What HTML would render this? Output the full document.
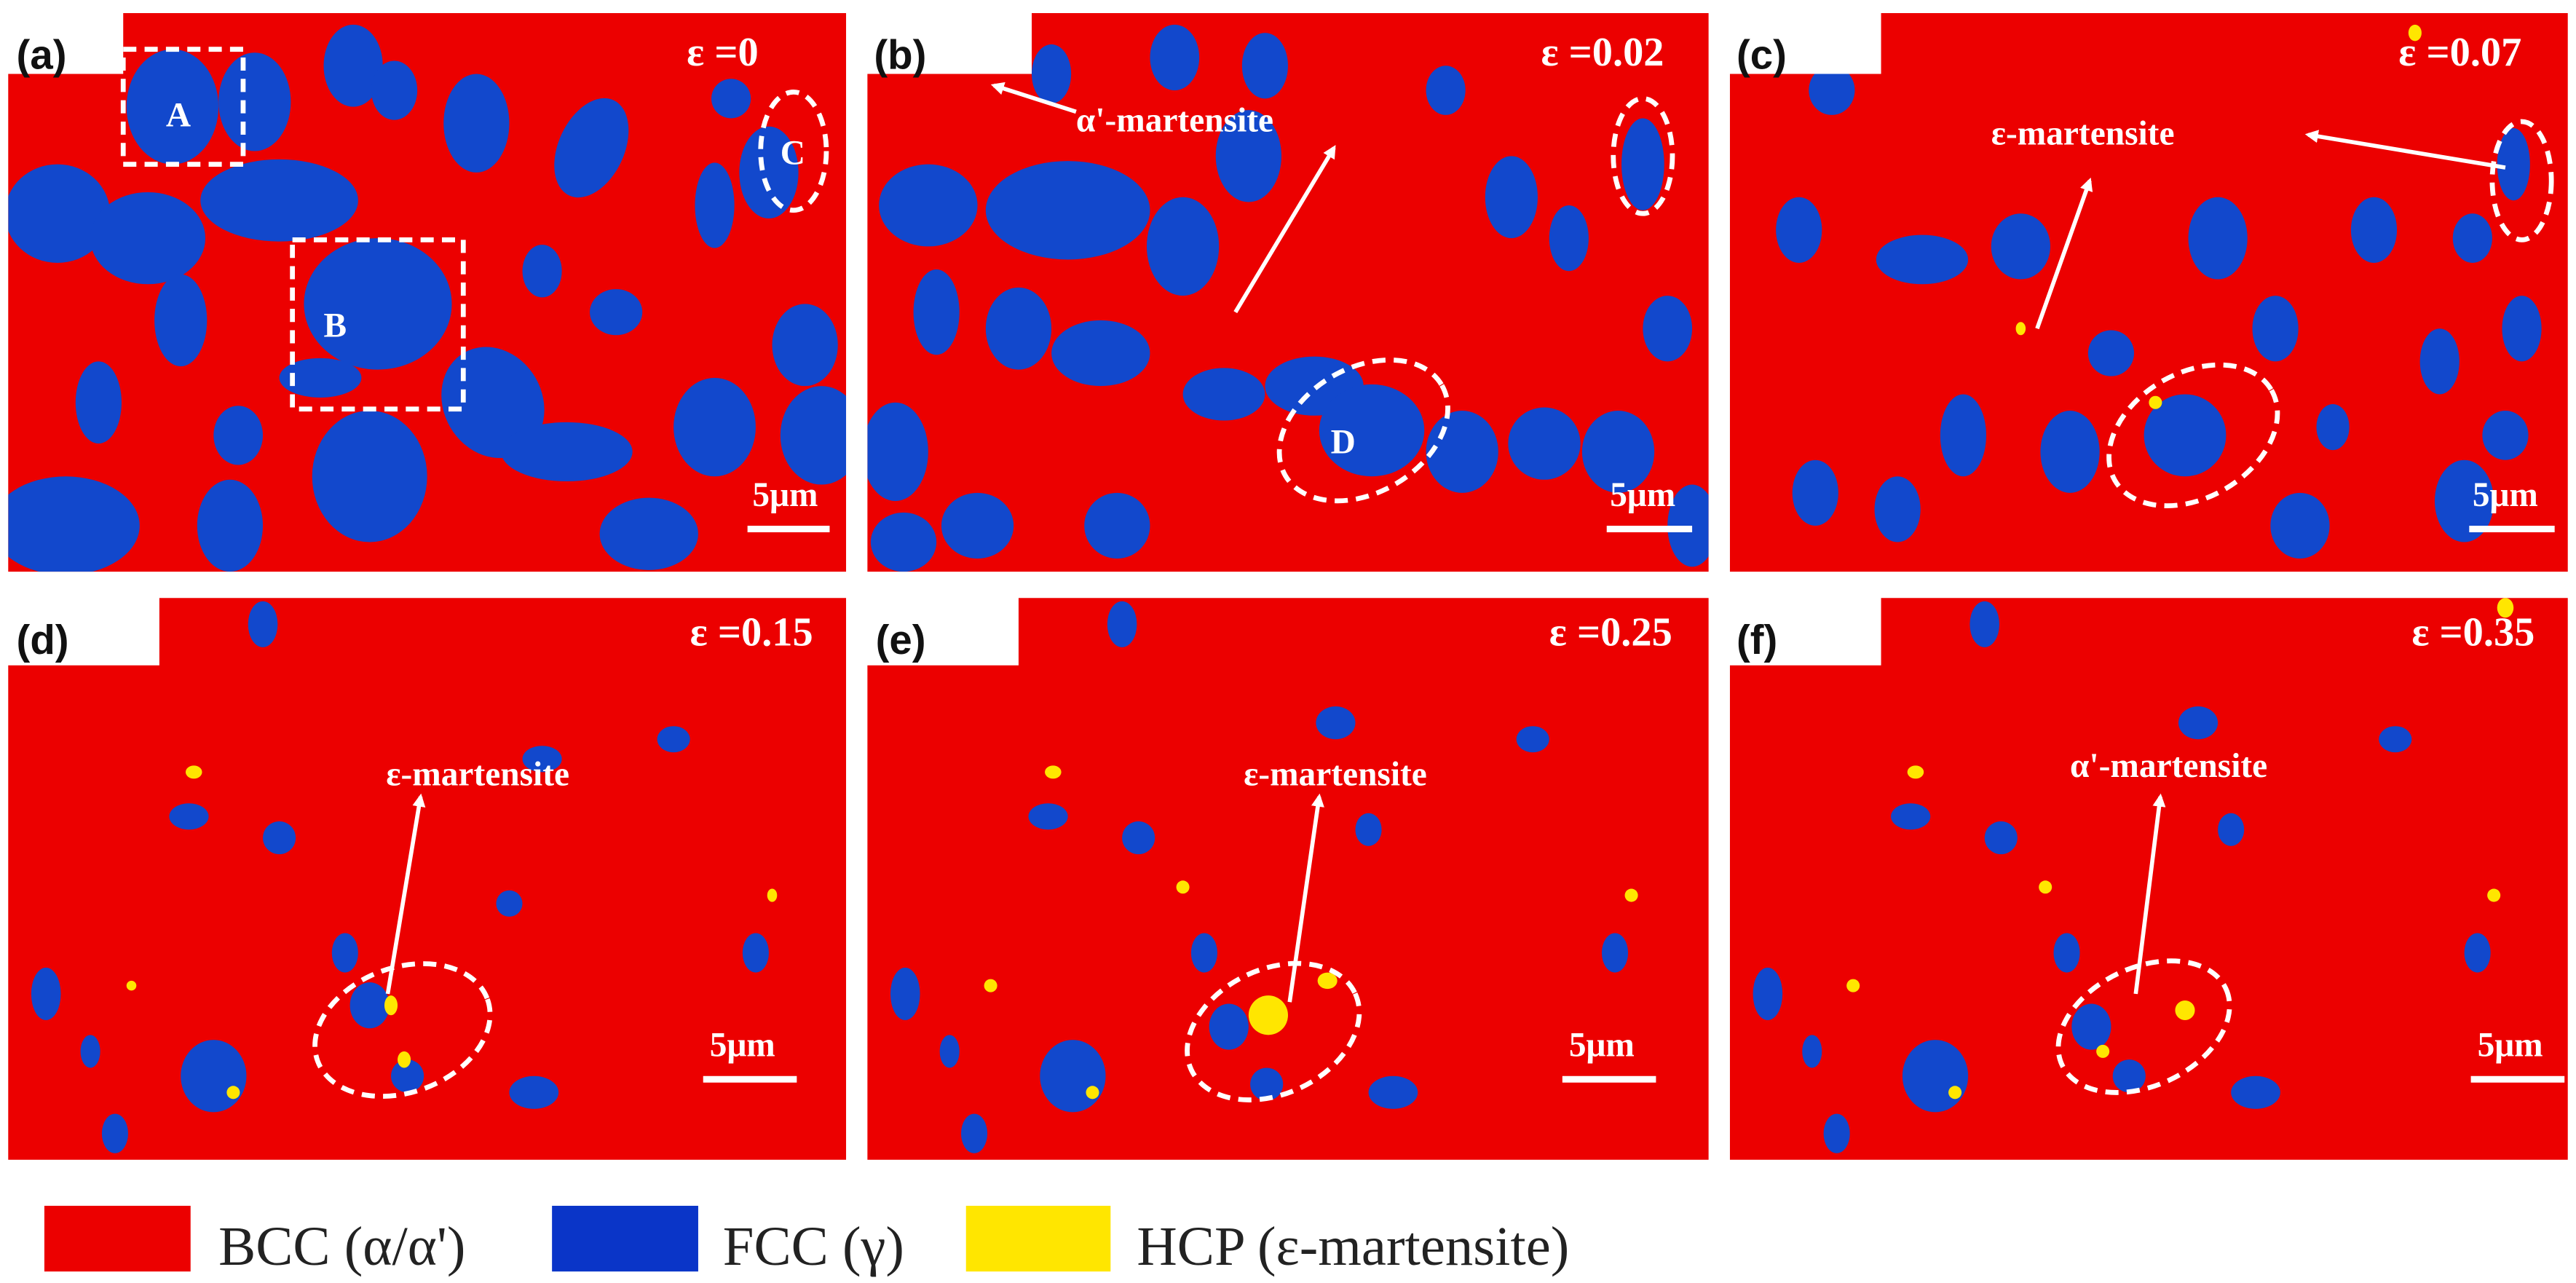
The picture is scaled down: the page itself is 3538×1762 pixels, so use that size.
<!DOCTYPE html>
<html><head><meta charset="utf-8"><style>
html,body{margin:0;padding:0;background:#fff;}
svg{display:block;}
.lbl{font-family:"Liberation Sans",sans-serif;font-weight:bold;font-size:25px;fill:#111;}
.eps{font-family:"Liberation Serif",serif;font-weight:bold;font-size:25px;fill:#fff;}
.ann{font-family:"Liberation Serif",serif;font-weight:bold;font-size:21px;fill:#fff;}
.sb{font-family:"Liberation Serif",serif;font-weight:bold;font-size:21px;fill:#fff;}
.leg{font-family:"Liberation Serif",serif;font-size:34px;fill:#222;}
.b ellipse{fill:#1248cc;}
.y ellipse{fill:#ffe600;}
.dash{fill:none;stroke:#fff;stroke-width:3;stroke-dasharray:8 5;}
.arr{stroke:#fff;stroke-width:2.5;fill:none;}
</style></head><body>
<svg width="3538" height="1762" viewBox="0 0 1568 781" preserveAspectRatio="none">
<defs>
<marker id="ah" markerWidth="8" markerHeight="8" refX="6" refY="4" orient="auto" markerUnits="userSpaceOnUse"><path d="M0,0 L8,4 L0,8 z" fill="#fff"/></marker>
<clipPath id="ca"><path d="M75,8 H515 V348 H5 V45 H75 Z"/></clipPath>
<clipPath id="cb"><path d="M628,8 H1040 V348 H528 V45 H628 Z"/></clipPath>
<clipPath id="cc"><path d="M1145,8 H1563 V348 H1053 V45 H1145 Z"/></clipPath>
<clipPath id="cd"><path d="M97,364 H515 V706 H5 V405 H97 Z"/></clipPath>
<clipPath id="ce"><path d="M620,364 H1040 V706 H528 V405 H620 Z"/></clipPath>
<clipPath id="cf"><path d="M1145,364 H1563 V706 H1053 V405 H1145 Z"/></clipPath>
</defs>

<!-- Panel a -->
<g>
<path d="M75,8 H515 V348 H5 V45 H75 Z" fill="#ec0000"/>
<g class="b" clip-path="url(#ca)">
<ellipse cx="105" cy="65" rx="28" ry="35"/><ellipse cx="155" cy="62" rx="22" ry="30"/><ellipse cx="215" cy="40" rx="18" ry="25"/>
<ellipse cx="240" cy="55" rx="14" ry="18"/><ellipse cx="35" cy="130" rx="32" ry="30"/><ellipse cx="90" cy="145" rx="35" ry="28"/>
<ellipse cx="170" cy="122" rx="48" ry="25"/><ellipse cx="230" cy="185" rx="45" ry="40"/><ellipse cx="110" cy="195" rx="16" ry="28"/>
<ellipse cx="300" cy="245" rx="30" ry="35" transform="rotate(-30 300 245)"/><ellipse cx="225" cy="290" rx="35" ry="40"/>
<ellipse cx="345" cy="275" rx="40" ry="18"/><ellipse cx="40" cy="320" rx="45" ry="30"/><ellipse cx="145" cy="265" rx="15" ry="18"/>
<ellipse cx="360" cy="90" rx="20" ry="32" transform="rotate(25 360 90)"/><ellipse cx="290" cy="75" rx="20" ry="30"/><ellipse cx="445" cy="60" rx="12" ry="12"/>
<ellipse cx="468" cy="105" rx="18" ry="28"/><ellipse cx="435" cy="125" rx="12" ry="26"/><ellipse cx="435" cy="260" rx="25" ry="30"/>
<ellipse cx="500" cy="265" rx="25" ry="30"/><ellipse cx="395" cy="325" rx="30" ry="22"/><ellipse cx="140" cy="320" rx="20" ry="28"/>
<ellipse cx="490" cy="210" rx="20" ry="25"/><ellipse cx="60" cy="245" rx="14" ry="25"/><ellipse cx="195" cy="230" rx="25" ry="12"/>
<ellipse cx="330" cy="165" rx="12" ry="16"/><ellipse cx="375" cy="190" rx="16" ry="14"/>
</g>
<rect x="75" y="30" width="73" height="70" class="dash"/>
<text x="101" y="77" class="ann" font-weight="normal">A</text>
<rect x="178" y="146" width="104" height="103" class="dash"/>
<text x="197" y="205" class="ann" font-weight="normal">B</text>
<ellipse cx="483" cy="92" rx="20" ry="36" class="dash"/>
<text x="475" y="100" class="ann" font-weight="normal">C</text>
<text x="418" y="40" class="eps">ε =0</text>
<text x="458" y="308" class="sb">5μm</text><line x1="455" y1="322" x2="505" y2="322" stroke="#fff" stroke-width="4"/>
<text x="10" y="42" class="lbl">(a)</text>
</g>

<!-- Panel b -->
<g>
<path d="M628,8 H1040 V348 H528 V45 H628 Z" fill="#ec0000"/>
<g class="b" clip-path="url(#cb)">
<ellipse cx="565" cy="125" rx="30" ry="25"/><ellipse cx="650" cy="128" rx="50" ry="30"/><ellipse cx="720" cy="150" rx="22" ry="30"/>
<ellipse cx="570" cy="190" rx="14" ry="26"/><ellipse cx="545" cy="275" rx="20" ry="30"/><ellipse cx="620" cy="200" rx="20" ry="25"/>
<ellipse cx="670" cy="215" rx="30" ry="20"/><ellipse cx="745" cy="240" rx="25" ry="16"/><ellipse cx="800" cy="235" rx="30" ry="18"/>
<ellipse cx="835" cy="262" rx="32" ry="28"/><ellipse cx="890" cy="275" rx="22" ry="25"/><ellipse cx="940" cy="270" rx="22" ry="22"/>
<ellipse cx="985" cy="275" rx="22" ry="25"/><ellipse cx="680" cy="320" rx="20" ry="20"/><ellipse cx="595" cy="320" rx="22" ry="20"/>
<ellipse cx="760" cy="95" rx="20" ry="28"/><ellipse cx="920" cy="120" rx="16" ry="25"/><ellipse cx="1000" cy="100" rx="13" ry="28"/>
<ellipse cx="1015" cy="200" rx="15" ry="20"/><ellipse cx="770" cy="40" rx="14" ry="20"/><ellipse cx="715" cy="35" rx="15" ry="20"/>
<ellipse cx="880" cy="55" rx="12" ry="15"/><ellipse cx="955" cy="145" rx="12" ry="20"/><ellipse cx="640" cy="45" rx="12" ry="18"/>
<ellipse cx="1030" cy="320" rx="15" ry="25"/><ellipse cx="550" cy="330" rx="20" ry="18"/>
</g>
<ellipse cx="1000" cy="95" rx="18" ry="35" class="dash"/>
<ellipse cx="830" cy="262" rx="55" ry="38" transform="rotate(-30 830 262)" class="dash"/>
<text x="810" y="276" class="ann" font-weight="normal">D</text>
<text x="655" y="80" class="ann">α'-martensite</text>
<line x1="655" y1="68" x2="605" y2="52" class="arr" marker-end="url(#ah)"/>
<line x1="752" y1="190" x2="812" y2="90" class="arr" marker-end="url(#ah)"/>
<text x="938" y="40" class="eps">ε =0.02</text>
<text x="980" y="308" class="sb">5μm</text><line x1="978" y1="322" x2="1030" y2="322" stroke="#fff" stroke-width="4"/>
<text x="532" y="42" class="lbl">(b)</text>
</g>

<!-- Panel c -->
<g>
<path d="M1145,8 H1563 V348 H1053 V45 H1145 Z" fill="#ec0000"/>
<g class="b" clip-path="url(#cc)">
<ellipse cx="1095" cy="140" rx="14" ry="20"/><ellipse cx="1170" cy="158" rx="28" ry="15"/><ellipse cx="1230" cy="150" rx="18" ry="20"/>
<ellipse cx="1285" cy="215" rx="14" ry="14"/><ellipse cx="1330" cy="265" rx="25" ry="25"/><ellipse cx="1260" cy="275" rx="18" ry="25"/>
<ellipse cx="1195" cy="265" rx="14" ry="25"/><ellipse cx="1350" cy="145" rx="18" ry="25"/><ellipse cx="1385" cy="200" rx="14" ry="20"/>
<ellipse cx="1445" cy="140" rx="14" ry="20"/><ellipse cx="1505" cy="145" rx="12" ry="15"/><ellipse cx="1485" cy="220" rx="12" ry="20"/>
<ellipse cx="1525" cy="265" rx="14" ry="15"/><ellipse cx="1500" cy="305" rx="18" ry="25"/><ellipse cx="1105" cy="300" rx="14" ry="20"/>
<ellipse cx="1155" cy="310" rx="14" ry="20"/><ellipse cx="1400" cy="320" rx="18" ry="20"/><ellipse cx="1115" cy="55" rx="14" ry="15"/>
<ellipse cx="1535" cy="200" rx="12" ry="20"/><ellipse cx="1530" cy="100" rx="10" ry="22"/><ellipse cx="1420" cy="260" rx="10" ry="14"/>
</g>
<g class="y"><ellipse cx="1312" cy="245" rx="4" ry="4"/><ellipse cx="1470" cy="20" rx="4" ry="5"/><ellipse cx="1230" cy="200" rx="3" ry="4"/></g>
<ellipse cx="1535" cy="110" rx="18" ry="36" class="dash"/>
<ellipse cx="1335" cy="265" rx="55" ry="38" transform="rotate(-30 1335 265)" class="dash"/>
<text x="1212" y="88" class="ann">ε-martensite</text>
<line x1="1525" y1="102" x2="1405" y2="82" class="arr" marker-end="url(#ah)"/>
<line x1="1240" y1="200" x2="1272" y2="110" class="arr" marker-end="url(#ah)"/>
<text x="1460" y="40" class="eps">ε =0.07</text>
<text x="1505" y="308" class="sb">5μm</text><line x1="1503" y1="322" x2="1555" y2="322" stroke="#fff" stroke-width="4"/>
<text x="1057" y="42" class="lbl">(c)</text>
</g>

<!-- Panel d -->
<g>
<path d="M97,364 H515 V706 H5 V405 H97 Z" fill="#ec0000"/>
<g class="b" clip-path="url(#cd)">
<ellipse cx="160" cy="380" rx="9" ry="14"/><ellipse cx="115" cy="497" rx="12" ry="8"/><ellipse cx="170" cy="510" rx="10" ry="10"/>
<ellipse cx="28" cy="605" rx="9" ry="16"/><ellipse cx="130" cy="655" rx="20" ry="22"/><ellipse cx="225" cy="612" rx="12" ry="14"/>
<ellipse cx="248" cy="655" rx="10" ry="10"/><ellipse cx="325" cy="665" rx="15" ry="10"/><ellipse cx="330" cy="462" rx="12" ry="8"/>
<ellipse cx="310" cy="550" rx="8" ry="8"/><ellipse cx="460" cy="580" rx="8" ry="12"/><ellipse cx="70" cy="690" rx="8" ry="12"/>
<ellipse cx="210" cy="580" rx="8" ry="12"/><ellipse cx="410" cy="450" rx="10" ry="8"/><ellipse cx="55" cy="640" rx="6" ry="10"/>
</g>
<g class="y"><ellipse cx="118" cy="470" rx="5" ry="4"/><ellipse cx="238" cy="612" rx="4" ry="6"/><ellipse cx="246" cy="645" rx="4" ry="5"/><ellipse cx="470" cy="545" rx="3" ry="4"/><ellipse cx="80" cy="600" rx="3" ry="3"/><ellipse cx="142" cy="665" rx="4" ry="4"/></g>
<ellipse cx="245" cy="627" rx="55" ry="38" transform="rotate(-20 245 627)" class="dash"/>
<text x="235" y="478" class="ann">ε-martensite</text>
<line x1="236" y1="605" x2="256" y2="485" class="arr" marker-end="url(#ah)"/>
<text x="420" y="393" class="eps">ε =0.15</text>
<text x="432" y="643" class="sb">5μm</text><line x1="428" y1="657" x2="485" y2="657" stroke="#fff" stroke-width="4"/>
<text x="10" y="398" class="lbl">(d)</text>
</g>

<!-- Panel e -->
<g>
<path d="M620,364 H1040 V706 H528 V405 H620 Z" fill="#ec0000"/>
<g class="b" clip-path="url(#ce)">
<ellipse cx="683" cy="380" rx="9" ry="14"/><ellipse cx="638" cy="497" rx="12" ry="8"/><ellipse cx="693" cy="510" rx="10" ry="10"/>
<ellipse cx="551" cy="605" rx="9" ry="16"/><ellipse cx="653" cy="655" rx="20" ry="22"/><ellipse cx="748" cy="625" rx="12" ry="14"/>
<ellipse cx="771" cy="660" rx="10" ry="10"/><ellipse cx="848" cy="665" rx="15" ry="10"/><ellipse cx="813" cy="440" rx="12" ry="10"/>
<ellipse cx="833" cy="505" rx="8" ry="10"/><ellipse cx="983" cy="580" rx="8" ry="12"/><ellipse cx="593" cy="690" rx="8" ry="12"/>
<ellipse cx="733" cy="580" rx="8" ry="12"/><ellipse cx="933" cy="450" rx="10" ry="8"/><ellipse cx="578" cy="640" rx="6" ry="10"/>
</g>
<g class="y"><ellipse cx="772" cy="618" rx="12" ry="12"/><ellipse cx="808" cy="597" rx="6" ry="5"/><ellipse cx="641" cy="470" rx="5" ry="4"/><ellipse cx="993" cy="545" rx="4" ry="4"/><ellipse cx="603" cy="600" rx="4" ry="4"/><ellipse cx="665" cy="665" rx="4" ry="4"/><ellipse cx="720" cy="540" rx="4" ry="4"/></g>
<ellipse cx="775" cy="628" rx="55" ry="38" transform="rotate(-25 775 628)" class="dash"/>
<text x="757" y="478" class="ann">ε-martensite</text>
<line x1="785" y1="610" x2="803" y2="485" class="arr" marker-end="url(#ah)"/>
<text x="943" y="393" class="eps">ε =0.25</text>
<text x="955" y="643" class="sb">5μm</text><line x1="951" y1="657" x2="1008" y2="657" stroke="#fff" stroke-width="4"/>
<text x="533" y="398" class="lbl">(e)</text>
</g>

<!-- Panel f -->
<g>
<path d="M1145,364 H1563 V706 H1053 V405 H1145 Z" fill="#ec0000"/>
<g class="b" clip-path="url(#cf)">
<ellipse cx="1208" cy="380" rx="9" ry="14"/><ellipse cx="1163" cy="497" rx="12" ry="8"/><ellipse cx="1218" cy="510" rx="10" ry="10"/>
<ellipse cx="1076" cy="605" rx="9" ry="16"/><ellipse cx="1178" cy="655" rx="20" ry="22"/><ellipse cx="1273" cy="625" rx="12" ry="14"/>
<ellipse cx="1296" cy="655" rx="10" ry="10"/><ellipse cx="1373" cy="665" rx="15" ry="10"/><ellipse cx="1338" cy="440" rx="12" ry="10"/>
<ellipse cx="1358" cy="505" rx="8" ry="10"/><ellipse cx="1508" cy="580" rx="8" ry="12"/><ellipse cx="1118" cy="690" rx="8" ry="12"/>
<ellipse cx="1258" cy="580" rx="8" ry="12"/><ellipse cx="1458" cy="450" rx="10" ry="8"/><ellipse cx="1103" cy="640" rx="6" ry="10"/>
</g>
<g class="y"><ellipse cx="1330" cy="615" rx="6" ry="6"/><ellipse cx="1166" cy="470" rx="5" ry="4"/><ellipse cx="1518" cy="545" rx="4" ry="4"/><ellipse cx="1128" cy="600" rx="4" ry="4"/><ellipse cx="1190" cy="665" rx="4" ry="4"/><ellipse cx="1245" cy="540" rx="4" ry="4"/><ellipse cx="1525" cy="370" rx="5" ry="6"/><ellipse cx="1280" cy="640" rx="4" ry="4"/></g>
<ellipse cx="1305" cy="625" rx="55" ry="36" transform="rotate(-25 1305 625)" class="dash"/>
<text x="1260" y="473" class="ann">α'-martensite</text>
<line x1="1300" y1="605" x2="1315" y2="485" class="arr" marker-end="url(#ah)"/>
<text x="1468" y="393" class="eps">ε =0.35</text>
<text x="1508" y="643" class="sb">5μm</text><line x1="1504" y1="657" x2="1561" y2="657" stroke="#fff" stroke-width="4"/>
<text x="1057" y="398" class="lbl">(f)</text>
</g>

<!-- Legend -->
<g>
<rect x="27" y="734" width="89" height="40" fill="#ec0000"/>
<text x="133" y="770" class="leg">BCC (α/α')</text>
<rect x="336" y="734" width="89" height="40" fill="#0a35c8"/>
<text x="440" y="770" class="leg">FCC (γ)</text>
<rect x="588" y="734" width="88" height="40" fill="#ffe600"/>
<text x="692" y="770" class="leg">HCP (ε-martensite)</text>
</g>
</svg>
</body></html>
